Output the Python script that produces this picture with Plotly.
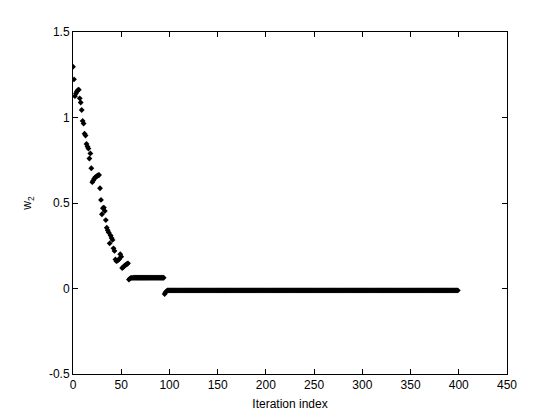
import plotly.graph_objects as go

# Iteration indices (0..399)
iterations = list(range(400))

# Early transient, iterations 0..57
w2_early = [
    1.297, 1.223, 1.125, 1.140, 1.152, 1.160, 1.163, 1.112, 1.088, 1.044,
    0.980, 0.965, 0.905, 0.895, 0.845, 0.830, 0.818, 0.760, 0.790, 0.703,
    0.622, 0.632, 0.642, 0.650, 0.654, 0.658, 0.662, 0.664, 0.586, 0.518,
    0.434, 0.470, 0.473, 0.453, 0.400, 0.355, 0.340, 0.328, 0.264, 0.310,
    0.295, 0.284, 0.235, 0.220, 0.170, 0.160, 0.163, 0.168, 0.172, 0.200,
    0.186, 0.120, 0.125, 0.130, 0.135, 0.140, 0.143, 0.147,
]

# First plateau, iterations 58..94
w2_plateau1 = [
    0.052, 0.058, 0.062, 0.062, 0.062, 0.063, 0.063, 0.063, 0.063, 0.063,
    0.063, 0.063, 0.063, 0.063, 0.063, 0.063, 0.063, 0.063, 0.063, 0.063,
    0.063, 0.063, 0.063, 0.063, 0.063, 0.063, 0.063, 0.063, 0.063, 0.063,
    0.063, 0.063, 0.063, 0.063, 0.063, 0.063, 0.063,
]

# Drop and final plateau, iterations 95..399
w2_final = [-0.032, -0.022, -0.016] + [
    -0.011, -0.011, -0.011, -0.011, -0.011, -0.011, -0.011, -0.011, -0.011, -0.011,
    -0.011, -0.011, -0.011, -0.011, -0.011, -0.011, -0.011, -0.011, -0.011, -0.011,
    -0.011, -0.011, -0.011, -0.011, -0.011, -0.011, -0.011, -0.011, -0.011, -0.011,
    -0.011, -0.011, -0.011, -0.011, -0.011, -0.011, -0.011, -0.011, -0.011, -0.011,
    -0.011, -0.011, -0.011, -0.011, -0.011, -0.011, -0.011, -0.011, -0.011, -0.011,
    -0.011, -0.011, -0.011, -0.011, -0.011, -0.011, -0.011, -0.011, -0.011, -0.011,
    -0.011, -0.011, -0.011, -0.011, -0.011, -0.011, -0.011, -0.011, -0.011, -0.011,
    -0.011, -0.011, -0.011, -0.011, -0.011, -0.011, -0.011, -0.011, -0.011, -0.011,
    -0.011, -0.011, -0.011, -0.011, -0.011, -0.011, -0.011, -0.011, -0.011, -0.011,
    -0.011, -0.011, -0.011, -0.011, -0.011, -0.011, -0.011, -0.011, -0.011, -0.011,
    -0.011, -0.011, -0.011, -0.011, -0.011, -0.011, -0.011, -0.011, -0.011, -0.011,
    -0.011, -0.011, -0.011, -0.011, -0.011, -0.011, -0.011, -0.011, -0.011, -0.011,
    -0.011, -0.011, -0.011, -0.011, -0.011, -0.011, -0.011, -0.011, -0.011, -0.011,
    -0.011, -0.011, -0.011, -0.011, -0.011, -0.011, -0.011, -0.011, -0.011, -0.011,
    -0.011, -0.011, -0.011, -0.011, -0.011, -0.011, -0.011, -0.011, -0.011, -0.011,
    -0.011, -0.011, -0.011, -0.011, -0.011, -0.011, -0.011, -0.011, -0.011, -0.011,
    -0.011, -0.011, -0.011, -0.011, -0.011, -0.011, -0.011, -0.011, -0.011, -0.011,
    -0.011, -0.011, -0.011, -0.011, -0.011, -0.011, -0.011, -0.011, -0.011, -0.011,
    -0.011, -0.011, -0.011, -0.011, -0.011, -0.011, -0.011, -0.011, -0.011, -0.011,
    -0.011, -0.011, -0.011, -0.011, -0.011, -0.011, -0.011, -0.011, -0.011, -0.011,
    -0.011, -0.011, -0.011, -0.011, -0.011, -0.011, -0.011, -0.011, -0.011, -0.011,
    -0.011, -0.011, -0.011, -0.011, -0.011, -0.011, -0.011, -0.011, -0.011, -0.011,
    -0.011, -0.011, -0.011, -0.011, -0.011, -0.011, -0.011, -0.011, -0.011, -0.011,
    -0.011, -0.011, -0.011, -0.011, -0.011, -0.011, -0.011, -0.011, -0.011, -0.011,
    -0.011, -0.011, -0.011, -0.011, -0.011, -0.011, -0.011, -0.011, -0.011, -0.011,
    -0.011, -0.011, -0.011, -0.011, -0.011, -0.011, -0.011, -0.011, -0.011, -0.011,
    -0.011, -0.011, -0.011, -0.011, -0.011, -0.011, -0.011, -0.011, -0.011, -0.011,
    -0.011, -0.011, -0.011, -0.011, -0.011, -0.011, -0.011, -0.011, -0.011, -0.011,
    -0.011, -0.011, -0.011, -0.011, -0.011, -0.011, -0.011, -0.011, -0.011, -0.011,
    -0.011, -0.011, -0.011, -0.011, -0.011, -0.011, -0.011, -0.011, -0.011, -0.011,
    -0.011, -0.011,
]

w2 = w2_early + w2_plateau1 + w2_final
n = min(len(iterations), len(w2))

x_ticks = [0, 50, 100, 150, 200, 250, 300, 350, 400, 450]
y_ticks = [-0.5, 0, 0.5, 1, 1.5]
y_tick_labels = ["-0.5", "0", "0.5", "1", "1.5"]

FONT = "Liberation Sans, Arial, Helvetica, sans-serif"

fig = go.Figure(
    go.Scatter(
        x=iterations[:n],
        y=w2[:n],
        mode="markers",
        marker=dict(symbol="diamond", size=4.5, color="black", line=dict(width=0)),
        showlegend=False,
        hoverinfo="skip",
    )
)

axis_common = dict(
    showline=True,
    linecolor="black",
    linewidth=1,
    mirror="allticks",
    ticks="inside",
    ticklen=5,
    tickwidth=1,
    tickcolor="black",
    showgrid=False,
    zeroline=False,
    tickfont=dict(family=FONT, size=12, color="black"),
)

fig.update_layout(
    width=560,
    height=420,
    margin=dict(l=73, r=53, t=32, b=46),
    paper_bgcolor="white",
    plot_bgcolor="white",
    font=dict(family=FONT, size=12, color="black"),
    xaxis=dict(
        range=[0, 450],
        tickvals=x_ticks,
        ticktext=[str(v) for v in x_ticks],
        title=dict(text="Iteration index", standoff=8,
                   font=dict(family=FONT, size=12, color="black")),
        **axis_common,
    ),
    yaxis=dict(
        range=[-0.5, 1.5],
        tickvals=y_ticks,
        ticktext=y_tick_labels,
        title=dict(text="w<sub>2</sub>", standoff=14,
                   font=dict(family=FONT, size=12, color="black")),
        **axis_common,
    ),
)

fig.write_html(
    "out.html",
    config={"displayModeBar": False},
    post_script="document.body.style.margin='0';document.body.style.overflow='hidden';",
)
